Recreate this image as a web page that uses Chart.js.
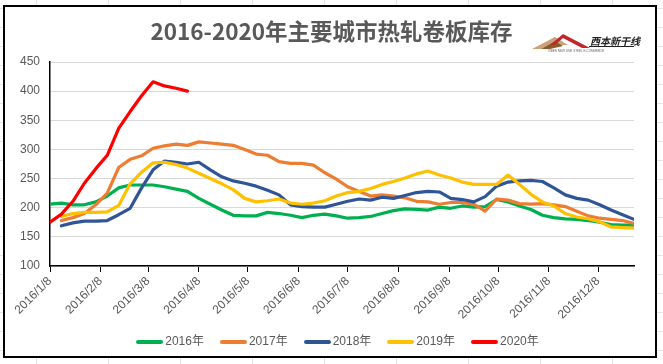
<!DOCTYPE html>
<html>
<head>
<meta charset="utf-8">
<script src="https://cdn.jsdelivr.net/npm/chart.js@4/dist/chart.umd.min.js"></script>
<style>
  html, body { margin:0; padding:0; background:#fff; }
  body {
    width:663px; height:364px; position:relative; overflow:hidden;
    background-image:
      linear-gradient(to right, #e4e4e4 1px, transparent 1px),
      linear-gradient(to bottom, #e4e4e4 1px, transparent 1px);
    background-size: 72px 19px;
    background-position: 36px 0, 0 8px;
  }
  #frame { position:absolute; left:3px; top:5px; width:650px; height:349px; border:2px solid #000; background:#fff; }
  #c { position:absolute; left:0; top:0; }
  #title { position:absolute; left:0; width:663px; top:14px; text-align:center;
    font-family:"Noto Sans CJK SC","Liberation Sans",sans-serif; font-weight:bold; font-size:22.5px; color:#595959; }
  #legend { position:absolute; left:6px; width:663px; top:331px; text-align:center;
    font-family:"Liberation Sans","Noto Sans CJK SC",sans-serif; font-size:12px; color:#595959; }
  #legend span.item { display:inline-block; margin:0 8px; }
  #legend span.sw { display:inline-block; width:27px; height:4px; vertical-align:middle; margin-right:2px; border-radius:2px; }
</style>
</head>
<body>
<div id="frame"></div>
<canvas id="c" width="663" height="364"></canvas>
<div id="title">2016-2020年主要城市热轧卷板库存</div>
<div id="legend"></div>
<script>
// Tick labels and their day offsets from 2016/1/8
const tickLabels = ["2016/1/8","2016/2/8","2016/3/8","2016/4/8","2016/5/8","2016/6/8","2016/7/8","2016/8/8","2016/9/8","2016/10/8","2016/11/8","2016/12/8"];
const tickDays   = [0, 31, 60, 91, 121, 152, 182, 213, 244, 274, 305, 335];
// Weekly dates (days from 2016/1/8)
const weekDays = Array.from({length:52}, (_, i) => i * 7);

const seriesNames = ["2016年","2017年","2018年","2019年","2020年"];
const seriesColors = ["#00B050","#ED7D31","#2F5597","#FFC000","#FF0000"];

const s2016 = [206,208,205,205,210,220,234,239,239,239,236,232,228,216,206,196,187,186,186,192,190,187,183,187,189,186,182,183,185,190,195,198,197,196,201,199,203,201,202,214,210,203,197,187,183,181,180,178,175,171,170,170];
const s2017 = [null,178,183,190,205,225,269,283,289,302,306,309,307,313,311,309,307,300,292,290,279,276,276,273,260,249,236,228,220,222,220,217,211,210,206,209,209,206,194,215,213,207,206,207,205,202,194,186,182,180,178,173];
const s2018 = [null,169,174,177,177,178,188,199,234,265,280,278,275,278,265,253,246,242,237,230,222,205,202,201,201,206,211,215,213,218,216,221,226,228,227,216,214,210,219,237,244,246,247,245,234,222,216,213,205,196,188,180];
const s2019 = [null,185,190,192,192,193,204,241,261,277,278,274,268,259,250,241,231,216,210,212,215,208,206,208,212,220,226,228,233,240,245,251,258,263,256,251,244,240,240,240,256,240,223,210,203,190,184,181,176,167,166,165];
const s2020 = [175,189,211,242,267,290,336,365,392,416,409,405,400];

const allSeries = [s2016, s2017, s2018, s2019, s2020];

const datasets = allSeries.map((vals, k) => ({
  label: seriesNames[k],
  data: vals.map((v, i) => ({x: weekDays[i], y: v})).filter(p => p.y !== null),
  borderColor: seriesColors[k],
  backgroundColor: seriesColors[k],
  borderWidth: 3.2,
  pointRadius: 0,
  tension: 0,
  borderJoinStyle: 'round',
  borderCapStyle: 'round',
  order: 5 - k
}));

// Legend (HTML)
const lg = document.getElementById('legend');
seriesNames.forEach((n, k) => {
  const it = document.createElement('span'); it.className = 'item';
  const sw = document.createElement('span'); sw.className = 'sw'; sw.style.background = seriesColors[k];
  it.appendChild(sw); it.appendChild(document.createTextNode(n));
  lg.appendChild(it);
});

const logoPlugin = {
  id: 'logo',
  afterDraw(chart) {
    const ctx = chart.ctx;
    ctx.save();
    // tan mountain
    ctx.fillStyle = '#C9A27A';
    ctx.beginPath(); ctx.moveTo(532, 49); ctx.lineTo(555, 37); ctx.lineTo(568, 45); ctx.lineTo(561, 45); ctx.lineTo(555, 41); ctx.lineTo(541, 49); ctx.closePath(); ctx.fill();
    ctx.fillStyle = '#8B5A2B';
    ctx.beginPath(); ctx.moveTo(541, 49); ctx.lineTo(555, 41); ctx.lineTo(563, 46); ctx.lineTo(550, 49); ctx.closePath(); ctx.fill();
    // red triangle
    ctx.fillStyle = '#C0262C';
    ctx.beginPath(); ctx.moveTo(550, 45); ctx.lineTo(563, 34); ctx.lineTo(590, 48); ctx.lineTo(582, 48); ctx.lineTo(563, 38); ctx.lineTo(555, 45); ctx.closePath(); ctx.fill();
    // brand text
    ctx.fillStyle = '#222';
    ctx.font = 'bold italic 10px "Noto Sans CJK SC", sans-serif';
    ctx.textBaseline = 'alphabetic';
    ctx.fillText('西本新干线', 590, 45);
    ctx.fillRect(589, 46, 45, 1);
    ctx.font = '3px "Liberation Sans", sans-serif';
    ctx.fillStyle = '#666';
    ctx.fillText('XIBEN NEW LINE STEEL E-COMMERCE', 548, 52);
    ctx.restore();
  }
};

new Chart(document.getElementById('c'), {
  type: 'line',
  data: { datasets },
  plugins: [logoPlugin],
  options: {
    responsive: false,
    animation: false,
    layout: { padding: { left: 0, right: 29, top: 62, bottom: 0 } },
    plugins: { legend: { display: false }, title: { display: false }, tooltip: { enabled: false } },
    scales: {
      x: {
        type: 'linear',
        min: 0, max: 357,
        afterBuildTicks: (scale) => { scale.ticks = tickDays.map(v => ({ value: v })); },
        afterFit: (scale) => { scale.height = 98; },
        ticks: {
          autoSkip: false,
          maxRotation: 45, minRotation: 45,
          color: '#595959',
          font: { family: '"Liberation Sans", sans-serif', size: 12 },
          padding: 2,
          callback: (value, index) => tickLabels[index]
        },
        grid: { display: true, drawOnChartArea: false, drawTicks: true, tickLength: 6, color: '#000', lineWidth: 1 },
        border: { display: true, color: '#000', width: 1.5 }
      },
      y: {
        min: 100, max: 450,
        afterFit: (scale) => { scale.width = 50; },
        ticks: {
          stepSize: 50,
          color: '#595959',
          font: { family: '"Liberation Sans", sans-serif', size: 12 },
          padding: 10
        },
        grid: { color: '#D9D9D9', lineWidth: 1, drawTicks: false },
        border: { display: true, color: '#000', width: 1.5 }
      }
    }
  }
});
</script>
</body>
</html>
